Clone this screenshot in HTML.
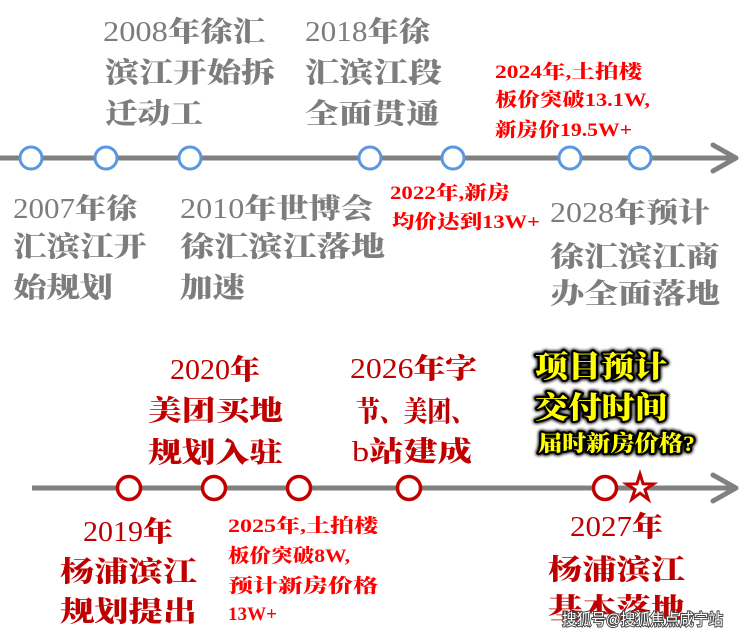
<!DOCTYPE html>
<html><head><meta charset="utf-8">
<style>
html,body{margin:0;padding:0;background:#fff;}
svg{display:block;}
.g{font-family:"Liberation Serif","Noto Serif CJK SC",serif;font-weight:900;font-size:28px;fill:#7d7d7d;}
.r{font-family:"Liberation Serif","Noto Serif CJK SC",serif;font-weight:900;font-size:19px;fill:#ff0000;}
.d{font-family:"Liberation Serif","Noto Serif CJK SC",serif;font-weight:900;font-size:28px;fill:#c00000;}
.n{font-weight:400;}
.y{font-family:"Liberation Serif","Noto Serif CJK SC",serif;font-weight:900;fill:#ffff00;stroke:#000;stroke-width:4px;paint-order:stroke;stroke-linejoin:round;}
.w{font-family:"Liberation Sans","Noto Sans CJK SC",sans-serif;font-size:16px;fill:#fff;stroke:#444;stroke-width:2px;paint-order:stroke;}
</style></head>
<body>
<svg width="740" height="635" viewBox="0 0 740 635" xmlns="http://www.w3.org/2000/svg">
<defs>
<filter id="glow" x="-10%" y="-20%" width="120%" height="140%">
<feGaussianBlur in="SourceAlpha" stdDeviation="1.8" result="b"/>
<feMerge><feMergeNode in="b"/><feMergeNode in="b"/><feMergeNode in="SourceGraphic"/></feMerge>
</filter>
</defs>

<!-- top timeline -->
<line x1="0" y1="158" x2="734" y2="158" stroke="#808080" stroke-width="5"/>
<polyline points="713,145 736,158 713,171" fill="none" stroke="#808080" stroke-width="5" stroke-linecap="round" stroke-linejoin="round"/>
<g fill="#fff" stroke="#5b96e0" stroke-width="3">
<circle cx="31" cy="158" r="11"/>
<circle cx="106" cy="158" r="11"/>
<circle cx="190" cy="158" r="11"/>
<circle cx="370" cy="158" r="11"/>
<circle cx="453" cy="158" r="11"/>
<circle cx="570" cy="158" r="11"/>
<circle cx="640" cy="158" r="11"/>
</g>

<!-- top gray text -->
<text class="g" x="103" y="41" textLength="162" lengthAdjust="spacingAndGlyphs"><tspan class="n">2008</tspan>年徐汇</text>
<text class="g" x="105" y="82" textLength="170" lengthAdjust="spacingAndGlyphs">滨江开始拆</text>
<text class="g" x="105" y="123" textLength="98" lengthAdjust="spacingAndGlyphs">迁动工</text>
<text class="g" x="305" y="41" textLength="125" lengthAdjust="spacingAndGlyphs"><tspan class="n">2018</tspan>年徐</text>
<text class="g" x="305" y="82" textLength="137" lengthAdjust="spacingAndGlyphs">汇滨江段</text>
<text class="g" x="305" y="123" textLength="135" lengthAdjust="spacingAndGlyphs">全面贯通</text>

<text class="g" x="13" y="218" textLength="124" lengthAdjust="spacingAndGlyphs"><tspan class="n">2007</tspan>年徐</text>
<text class="g" x="13" y="256" textLength="134" lengthAdjust="spacingAndGlyphs">汇滨江开</text>
<text class="g" x="13" y="297" textLength="100" lengthAdjust="spacingAndGlyphs">始规划</text>
<text class="g" x="180" y="218" textLength="193" lengthAdjust="spacingAndGlyphs"><tspan class="n">2010</tspan>年世博会</text>
<text class="g" x="180" y="256" textLength="205" lengthAdjust="spacingAndGlyphs">徐汇滨江落地</text>
<text class="g" x="180" y="297" textLength="65" lengthAdjust="spacingAndGlyphs">加速</text>
<text class="g" x="550" y="222" textLength="160" lengthAdjust="spacingAndGlyphs"><tspan class="n">2028</tspan>年预计</text>
<text class="g" x="550" y="266" textLength="170" lengthAdjust="spacingAndGlyphs">徐汇滨江商</text>
<text class="g" x="550" y="303" textLength="170" lengthAdjust="spacingAndGlyphs">办全面落地</text>

<!-- top red text -->
<text class="r" x="495" y="78" textLength="147" lengthAdjust="spacingAndGlyphs">2024年,土拍楼</text>
<text class="r" x="495" y="106" textLength="155" lengthAdjust="spacingAndGlyphs">板价突破13.1W,</text>
<text class="r" x="495" y="136" textLength="137" lengthAdjust="spacingAndGlyphs">新房价19.5W+</text>
<text class="r" x="390" y="199" textLength="120" lengthAdjust="spacingAndGlyphs">2022年,新房</text>
<text class="r" x="392" y="228" textLength="148" lengthAdjust="spacingAndGlyphs">均价达到13W+</text>

<!-- bottom timeline -->
<line x1="32" y1="488" x2="734" y2="488" stroke="#808080" stroke-width="5"/>
<polyline points="713,475 736,488 713,501" fill="none" stroke="#808080" stroke-width="5" stroke-linecap="round" stroke-linejoin="round"/>
<g fill="#fff" stroke="#c00000" stroke-width="3.5">
<circle cx="129" cy="488" r="11.5"/>
<circle cx="214" cy="488" r="11.5"/>
<circle cx="299" cy="488" r="11.5"/>
<circle cx="409" cy="488" r="11.5"/>
<circle cx="605" cy="488" r="11.5"/>
<polygon points="640,474 643.1,483.8 653.4,484 645,489.6 648.2,499.3 640,493.2 631.8,499.3 635,489.6 626.6,484 636.9,483.8" stroke-width="3" stroke-linejoin="miter"/>
</g>

<!-- bottom dark red text -->
<text class="d" x="170" y="379" textLength="90" lengthAdjust="spacingAndGlyphs"><tspan class="n">2020</tspan>年</text>
<text class="d" x="148" y="420" textLength="135" lengthAdjust="spacingAndGlyphs">美团买地</text>
<text class="d" x="148" y="462" textLength="135" lengthAdjust="spacingAndGlyphs">规划入驻</text>
<text class="d" x="83" y="541" textLength="90" lengthAdjust="spacingAndGlyphs"><tspan class="n">2019</tspan>年</text>
<text class="d" x="60" y="581" textLength="137" lengthAdjust="spacingAndGlyphs">杨浦滨江</text>
<text class="d" x="60" y="621" textLength="137" lengthAdjust="spacingAndGlyphs">规划提出</text>
<text class="d" x="350" y="378" textLength="127" lengthAdjust="spacingAndGlyphs"><tspan class="n">2026</tspan>年字</text>
<text class="d" x="356" y="421" textLength="119" lengthAdjust="spacingAndGlyphs">节、美团、</text>
<text class="d" x="352" y="461" textLength="120" lengthAdjust="spacingAndGlyphs"><tspan class="n">b</tspan>站建成</text>
<text class="d" x="570" y="536" textLength="93" lengthAdjust="spacingAndGlyphs"><tspan class="n">2027</tspan>年</text>
<text class="d" x="548" y="579" textLength="137" lengthAdjust="spacingAndGlyphs">杨浦滨江</text>
<text class="d" x="548" y="618" textLength="137" lengthAdjust="spacingAndGlyphs">基本落地</text>

<!-- bottom bright red text -->
<text class="r" x="228" y="532" textLength="150" lengthAdjust="spacingAndGlyphs">2025年,土拍楼</text>
<text class="r" x="228" y="562" textLength="122" lengthAdjust="spacingAndGlyphs">板价突破8W,</text>
<text class="r" x="228" y="592" textLength="150" lengthAdjust="spacingAndGlyphs">预计新房价格</text>
<text class="r" x="228" y="620" textLength="49" lengthAdjust="spacingAndGlyphs">13W+</text>

<!-- yellow callout -->
<g filter="url(#glow)">
<text class="y" x="535" y="377" font-size="30" textLength="132" lengthAdjust="spacingAndGlyphs">项目预计</text>
<text class="y" x="535" y="418" font-size="30" textLength="133" lengthAdjust="spacingAndGlyphs">交付时间</text>
<text class="y" x="538" y="451" font-size="22" textLength="157" lengthAdjust="spacingAndGlyphs">届时新房价格?</text>
</g>

<!-- watermark -->
<text class="w" x="562" y="625" textLength="161" lengthAdjust="spacingAndGlyphs">搜狐号@搜狐焦点咸宁站</text>
</svg>
</body></html>
